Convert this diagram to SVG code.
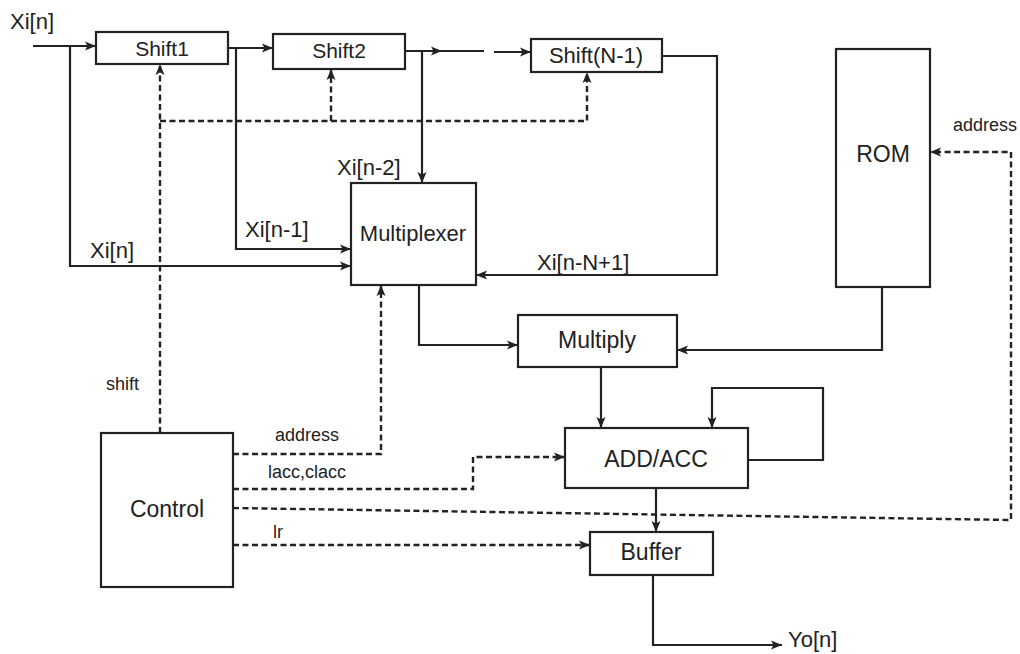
<svg xmlns="http://www.w3.org/2000/svg" width="1020" height="654" viewBox="0 0 1020 654">
<style>
.box{fill:#fff;stroke:#222;stroke-width:2.2}
.t{font-family:"Liberation Sans",Arial,sans-serif;fill:#222;text-anchor:middle}
.lb{font-family:"Liberation Sans",Arial,sans-serif;fill:#222;font-size:22px}
.sl{font-family:"Liberation Sans",Arial,sans-serif;fill:#222;font-size:18px}
.s{fill:none;stroke:#222;stroke-width:2.2}
.d{fill:none;stroke:#222;stroke-width:2.4;stroke-dasharray:6,3.5}
</style>
<defs>
<marker id="a" markerUnits="userSpaceOnUse" markerWidth="12" markerHeight="10" refX="11" refY="5" orient="auto">
<path d="M0,0.5 L11,5 L0,9.5 L2.5,5 z" fill="#222"/>
</marker>
</defs>
<rect width="1020" height="654" fill="#fff"/>

<g id="connectors">
<path class="s" d="M33,46 H96" marker-end="url(#a)"/>
<path class="s" d="M70,46 V266 H351" marker-end="url(#a)"/>
<path class="s" d="M228,48 H273" marker-end="url(#a)"/>
<path class="s" d="M236,48 V249 H351" marker-end="url(#a)"/>
<path class="s" d="M405,51 H442" marker-end="url(#a)"/>
<path class="s" d="M440,51 H484"/>
<path class="s" d="M494,52 H531" marker-end="url(#a)"/>
<path class="s" d="M422,51 V183" marker-end="url(#a)"/>
<path class="s" d="M662,56 H717 V275 H476" marker-end="url(#a)"/>
<path class="s" d="M419,285 V345 H518" marker-end="url(#a)"/>
<path class="s" d="M882,287 V350 H677" marker-end="url(#a)"/>
<path class="s" d="M601,367 V428" marker-end="url(#a)"/>
<path class="s" d="M748,460 H823 V388 H712 V428" marker-end="url(#a)"/>
<path class="s" d="M656,488 V532" marker-end="url(#a)"/>
<path class="s" d="M653,575 V645 H782" marker-end="url(#a)"/>

<path class="d" d="M160,433 V64" marker-end="url(#a)"/>
<path class="d" d="M160,121 H587 V72" marker-end="url(#a)"/>
<path class="d" d="M331,121 V69" marker-end="url(#a)"/>
<path class="d" d="M233,454 H381 V285" marker-end="url(#a)"/>
<path class="d" d="M233,489 H473 V457 H565" marker-end="url(#a)"/>
<path class="d" d="M233,508 L1011,520 V152 H930" marker-end="url(#a)"/>
<path class="d" d="M233,545 H590" marker-end="url(#a)"/>

<text class="lb" x="10" y="29">Xi[n]</text>
<text class="lb" x="90" y="258">Xi[n]</text>
<text class="lb" x="245" y="237">Xi[n-1]</text>
<text class="lb" x="337" y="175">Xi[n-2]</text>
<text class="lb" x="537" y="270">Xi[n-N+1]</text>
<text class="lb" x="788" y="647">Yo[n]</text>
<text class="sl" x="106" y="390">shift</text>
<text class="sl" x="275" y="441">address</text>
<text class="sl" x="268" y="478">lacc,clacc</text>
<text class="sl" x="273" y="538">lr</text>
<text class="sl" x="953" y="131">address</text>
</g>

<g id="shift1"><rect class="box" x="96" y="32" width="132" height="32"/><text class="t" x="162" y="56" font-size="21">Shift1</text></g>
<g id="shift2"><rect class="box" x="273" y="34" width="132" height="35"/><text class="t" x="339" y="58" font-size="21">Shift2</text></g>
<g id="shiftN1"><rect class="box" x="531" y="39" width="131" height="33"/><text class="t" x="596" y="63" font-size="22">Shift(N-1)</text></g>
<g id="multiplexer"><rect class="box" x="351" y="183" width="125" height="102"/><text class="t" x="413" y="241" font-size="22">Multiplexer</text></g>
<g id="multiply"><rect class="box" x="518" y="315" width="159" height="52"/><text class="t" x="597" y="348" font-size="23">Multiply</text></g>
<g id="rom"><rect class="box" x="836" y="49" width="94" height="238"/><text class="t" x="883" y="162" font-size="23">ROM</text></g>
<g id="control"><rect class="box" x="101" y="433" width="132" height="154"/><text class="t" x="167" y="517" font-size="23">Control</text></g>
<g id="addacc"><rect class="box" x="565" y="428" width="183" height="60"/><text class="t" x="656" y="467" font-size="23">ADD/ACC</text></g>
<g id="buffer"><rect class="box" x="590" y="532" width="123" height="43"/><text class="t" x="651" y="560" font-size="23">Buffer</text></g>
</svg>
